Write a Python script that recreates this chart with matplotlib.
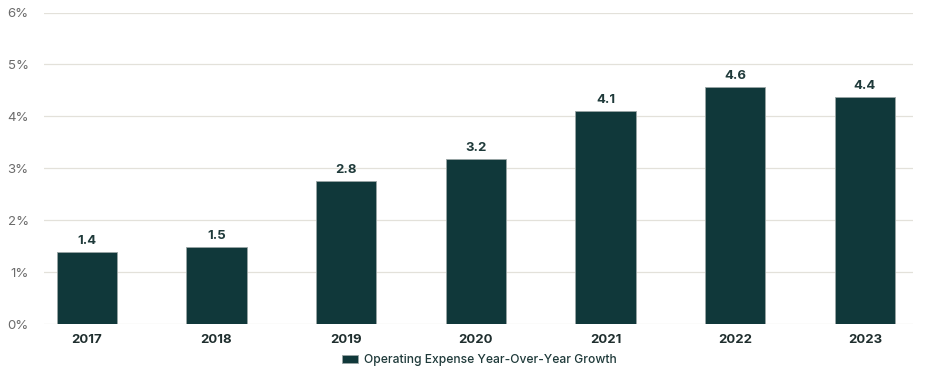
import matplotlib
matplotlib.use("Agg")
import matplotlib.pyplot as plt
from matplotlib.patches import Patch

years = ["2017", "2018", "2019", "2020", "2021", "2022", "2023"]
growth = [1.38, 1.48, 2.76, 3.18, 4.1, 4.56, 4.37]
yticks = [0, 1, 2, 3, 4, 5, 6]
ytick_labels = ["0%", "1%", "2%", "3%", "4%", "5%", "6%"]
legend_label = "Operating Expense Year-Over-Year Growth"

plt.rcParams['font.family'] = ['Inter', 'DejaVu Sans']
bar_color = "#10383A"

fig = plt.figure(figsize=(9.45, 3.8), dpi=100)
ax = fig.add_axes([0.0466, 0.147, 0.9194, 0.820])

x = list(range(len(years)))
ax.bar(x, growth, width=0.465, color=bar_color, edgecolor="#9aa5a5", linewidth=0.6, zorder=3)
for xi, v in zip(x, growth):
    ax.text(xi, v + 0.1, f"{v:.1f}", ha="center", va="bottom", fontsize=9.5,
            fontweight="bold", color="#1f3a3a")

ax.set_ylim(0, 6)
ax.set_xlim(-0.33, 6.37)
ax.set_yticks(yticks)
ax.set_yticklabels(ytick_labels, fontsize=9.5, color="#6b6b6b")
ax.set_xticks(x)
ax.set_xticklabels(years, fontsize=9.5, fontweight="bold", color="#1f2e2e")
ax.grid(axis="y", color="#e3e1da", linewidth=0.9, zorder=0)
ax.tick_params(axis="both", length=0)
ax.tick_params(axis="y", pad=11)
ax.tick_params(axis="x", pad=7)
for s in ax.spines.values():
    s.set_visible(False)

fig.legend(handles=[Patch(facecolor=bar_color, edgecolor="#9aa5a5", linewidth=0.6, label=legend_label)],
           loc="center", bbox_to_anchor=(0.507, 0.052), frameon=False,
           prop={"size": 8.7, "weight": "medium"},
           handlelength=1.3, handleheight=0.7, handletextpad=0.5, labelcolor="#1f3a3a")

fig.savefig("out.png", dpi=100)
